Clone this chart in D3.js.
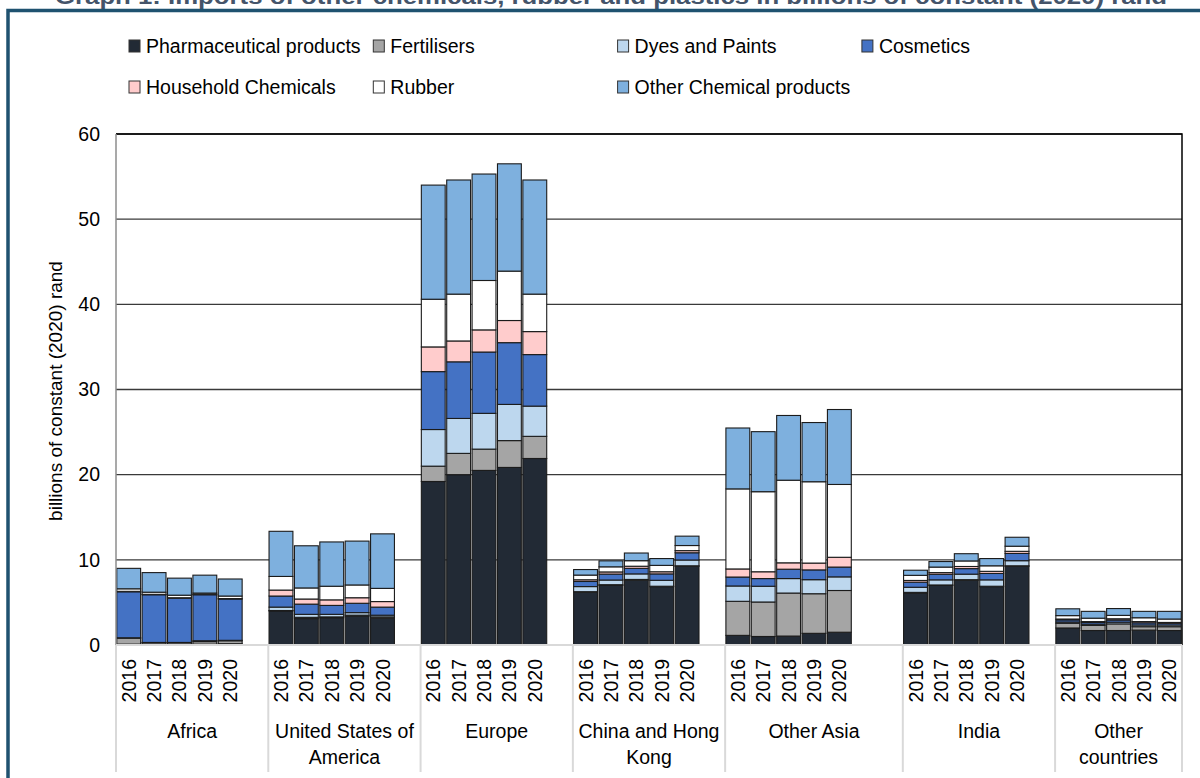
<!DOCTYPE html>
<html lang="en">
<head>
<meta charset="utf-8" />
<title>Imports of other chemicals, rubber and plastics</title>
<script src="https://d3js.org/d3.v7.min.js"></script>
<style>
  body{margin:0;background:#fff;}
  text{font-family:"Liberation Sans",Arial,sans-serif;fill:#000;}
</style>
</head>
<body>
<div id="chart"></div>
<script>
// regions on the category axis, years inside each region
var categories = ["Africa","United States of America","Europe","China and Hong Kong","Other Asia","India","Other countries"];
var years = ["2016","2017","2018","2019","2020"];
// empty rows after each region in the source sheet (they leave a gap on the axis)
var blankRows = [1,1,1,1,2,1,0];

var seriesNames = ["Pharmaceutical products","Fertilisers","Dyes and Paints","Cosmetics","Household Chemicals","Rubber","Other Chemical products"];

// values in billions of constant (2020) rand, 5 years per region in the order of categories
var pharmaceutical = [0.1,0.05,0.05,0.1,0.15, 4.0,3.1,3.2,3.4,3.15, 19.2,20.0,20.5,20.85,21.9, 6.2,7.0,7.6,6.85,9.25, 1.13,1.0,1.05,1.37,1.5, 6.1,7.0,7.6,6.85,9.25, 2.0,1.7,1.7,1.75,1.7];
var fertilisers = [0.7,0.2,0.2,0.3,0.35, 0.05,0.15,0.1,0.1,0.15, 1.8,2.5,2.5,3.15,2.6, 0.06,0.08,0.1,0.05,0.05, 4.0,4.05,5.05,4.65,4.9, 0.08,0.05,0.07,0.05,0.05, 0.55,0.6,0.78,0.4,0.45];
var dyesPaints = [0.05,0.05,0.05,0.1,0.05, 0.4,0.35,0.3,0.3,0.2, 4.3,4.1,4.2,4.25,3.55, 0.6,0.55,0.65,0.7,0.68, 1.8,1.85,1.7,1.65,1.6, 0.6,0.6,0.65,0.75,0.6, 0.15,0.15,0.2,0.2,0.2];
var cosmetics = [5.4,5.6,5.2,5.4,4.85, 1.3,1.2,1.05,1.1,0.95, 6.8,6.65,7.2,7.25,6.05, 0.6,0.7,0.65,0.75,0.85, 1.05,0.9,1.1,1.15,1.15, 0.6,0.65,0.65,0.75,0.85, 0.25,0.2,0.25,0.25,0.2];
var household = [0.05,0.05,0.05,0.05,0.05, 0.7,0.6,0.65,0.65,0.65, 2.9,2.45,2.6,2.6,2.7, 0.2,0.25,0.25,0.25,0.25, 0.95,0.8,0.75,0.8,1.15, 0.2,0.2,0.25,0.25,0.25, 0.1,0.1,0.15,0.15,0.1];
var rubber = [0.3,0.25,0.3,0.15,0.3, 1.6,1.3,1.6,1.5,1.55, 5.6,5.5,5.8,5.8,4.4, 0.55,0.6,0.65,0.75,0.6, 9.4,9.4,9.7,9.55,8.55, 0.6,0.65,0.65,0.65,0.6, 0.4,0.4,0.4,0.45,0.4];
var otherChemicals = [2.4,2.3,2.0,2.1,2.0, 5.3,4.95,5.2,5.15,6.4, 13.4,13.4,12.5,12.6,13.4, 0.65,0.7,0.9,0.8,1.1, 7.15,7.05,7.6,6.95,8.8, 0.6,0.65,0.85,0.85,1.05, 0.8,0.8,0.8,0.75,0.9];

var yTicks = [0,10,20,30,40,50,60];

var seriesColors = ["#222a35","#a5a5a5","#bdd7ee","#4472c4","#ffcccc","#ffffff","#7eb0de"];

function drawChart(){
    var width = 1200, height = 778;
    var left = 116, right = 1182, top = 134, bottom = 645;

    var svg = d3.select("#chart").append("svg")
        .attr("width",width)
        .attr("height",height);

    // one row per region and year, plus the blank rows
    var rows = [];
    var slots = [];
    categories.forEach(function(c,ci){
        years.forEach(function(y,yi){
            var i = ci*years.length + yi;
            var key = c + "|" + y;
            slots.push(key);
            rows.push({key:key, cat:c, year:y,
                s0:pharmaceutical[i], s1:fertilisers[i], s2:dyesPaints[i], s3:cosmetics[i],
                s4:household[i], s5:rubber[i], s6:otherChemicals[i]});
        });
        for(var b=0;b<blankRows[ci];b++){ slots.push(c + "|blank" + b); }
    });

    var xScale = d3.scaleBand()
        .domain(slots)
        .range([left,right])
        .paddingInner(0.06)
        .paddingOuter(0.03);

    var yScale = d3.scaleLinear()
        .domain([0,60])
        .range([bottom,top]);

    var stack = d3.stack().keys(["s0","s1","s2","s3","s4","s5","s6"]);
    var stacked = stack(rows);

    // frame round the figure and the title above it (the top edge cuts it, as in the source)
    svg.append("text")
        .attr("x",611)
        .attr("y",4)
        .attr("text-anchor","middle")
        .attr("textLength",1112)
        .attr("lengthAdjust","spacingAndGlyphs")
        .style("font-size","22px")
        .style("font-weight","bold")
        .style("fill","#44546a")
        .text("Graph 1: Imports of other chemicals, rubber and plastics in billions of constant (2020) rand");

    svg.append("path")
        .attr("d","M8,782 L8,10.5 L1204,10.5")
        .attr("fill","none")
        .attr("stroke","#1f5270")
        .attr("stroke-width",3.5);

    // gridlines
    svg.append("g").selectAll("line")
        .data(yTicks.filter(function(t){ return t>0; }))
        .enter().append("line")
            .attr("x1",left).attr("x2",right)
            .attr("y1",function(d){ return yScale(d); })
            .attr("y2",function(d){ return yScale(d); })
            .attr("stroke","#3a3a3a")
            .attr("stroke-width",1.3);

    // plot area border top and right
    svg.append("path")
        .attr("d","M"+left+","+top+" L"+right+","+top+" L"+right+","+bottom)
        .attr("fill","none")
        .attr("stroke","#000")
        .attr("stroke-width",1.5);

    // stacked bars
    svg.append("g").selectAll("g")
        .data(stacked)
        .enter().append("g")
            .attr("fill",function(d,i){ return seriesColors[i]; })
        .selectAll("rect")
        .data(function(d){ return d; })
        .enter().append("rect")
            .attr("x",function(d){ return xScale(d.data.key); })
            .attr("width",xScale.bandwidth())
            .attr("y",function(d){ return yScale(d[1]); })
            .attr("height",function(d){ return yScale(d[0]) - yScale(d[1]); })
            .attr("stroke","#1b1b1b")
            .attr("stroke-width",1.1);

    // y axis
    var yAxis = d3.axisLeft(yScale).tickValues(yTicks).tickSize(0).tickPadding(16);
    var yg = svg.append("g")
        .attr("transform","translate(" + left + ",0)")
        .call(yAxis);
    yg.select(".domain").remove();
    yg.selectAll("text")
        .style("font-size","19.5px")
        .style("font-family","'Liberation Sans',Arial,sans-serif")
        .attr("fill","#000");
    svg.append("line")
        .attr("x1",left).attr("x2",left)
        .attr("y1",top).attr("y2",bottom)
        .attr("stroke","#8c8c8c")
        .attr("stroke-width",1.5);

    svg.append("text")
        .attr("transform","translate(62," + 391 + ") rotate(-90)")
        .attr("text-anchor","middle")
        .style("font-size","19px")
        .text("billions of constant (2020) rand");

    // category axis: years and regions
    svg.append("line")
        .attr("x1",left).attr("x2",right)
        .attr("y1",bottom).attr("y2",bottom)
        .attr("stroke","#d9d9d9")
        .attr("stroke-width",2);

    var xAxis = d3.axisBottom(xScale)
        .tickValues(rows.map(function(r){ return r.key; }))
        .tickFormat(function(k){ return k.split("|")[1]; })
        .tickSize(0);
    var xg = svg.append("g")
        .attr("transform","translate(0," + bottom + ")")
        .call(xAxis);
    xg.select(".domain").remove();
    xg.selectAll("text")
        .attr("transform","rotate(-90)")
        .attr("text-anchor","end")
        .attr("x",-14)
        .attr("y",0)
        .attr("dy","0.36em")
        .style("font-size","19.5px")
        .style("font-family","'Liberation Sans',Arial,sans-serif")
        .attr("fill","#000");

    // region separators and names
    var step = xScale.step();
    var bounds = [];
    var start = 0;
    categories.forEach(function(c,ci){
        var n = years.length + blankRows[ci];
        bounds.push({cat:c, x0:left + start*step, x1:left + (start+n)*step});
        start += n;
    });

    svg.append("g").selectAll("line")
        .data([left].concat(bounds.map(function(b){ return b.x1; })))
        .enter().append("line")
            .attr("x1",function(d){ return d; })
            .attr("x2",function(d){ return d; })
            .attr("y1",bottom).attr("y2",772)
            .attr("stroke","#d9d9d9")
            .attr("stroke-width",2);

    var names = svg.append("g").selectAll("text")
        .data(bounds)
        .enter().append("text")
            .attr("text-anchor","middle")
            .attr("y",738)
            .style("font-size","19.5px");

    // wrap the region names into the width of their slot
    names.each(function(b){
        var t = d3.select(this);
        var maxW = b.x1 - b.x0 - 8;
        var words = b.cat.split(" ");
        var lines = [];
        var line = [];
        words.forEach(function(w){
            line.push(w);
            t.text(line.join(" "));
            if(t.node().getComputedTextLength() > maxW && line.length>1){
                line.pop();
                lines.push(line.join(" "));
                line = [w];
            }
        });
        lines.push(line.join(" "));
        t.text(null);
        lines.forEach(function(l,li){
            t.append("tspan")
                .attr("x",(b.x0+b.x1)/2)
                .attr("dy",li===0 ? 0 : 26)
                .text(l);
        });
    });

    // legend, four columns
    var legend = svg.append("g").selectAll("g")
        .data(seriesNames)
        .enter().append("g")
            .attr("transform",function(d,i){
                return "translate(" + (129 + (i%4)*244.3) + "," + (46 + Math.floor(i/4)*41) + ")";
            });
    legend.append("rect")
        .attr("x",0).attr("y",-6)
        .attr("width",11).attr("height",12)
        .attr("fill",function(d,i){ return seriesColors[i]; })
        .attr("stroke","#333")
        .attr("stroke-width",1);
    legend.append("text")
        .attr("x",17)
        .attr("y",0)
        .attr("dy","0.35em")
        .style("font-size","19.5px")
        .text(function(d){ return d; });
}

drawChart();
</script>
</body>
</html>
